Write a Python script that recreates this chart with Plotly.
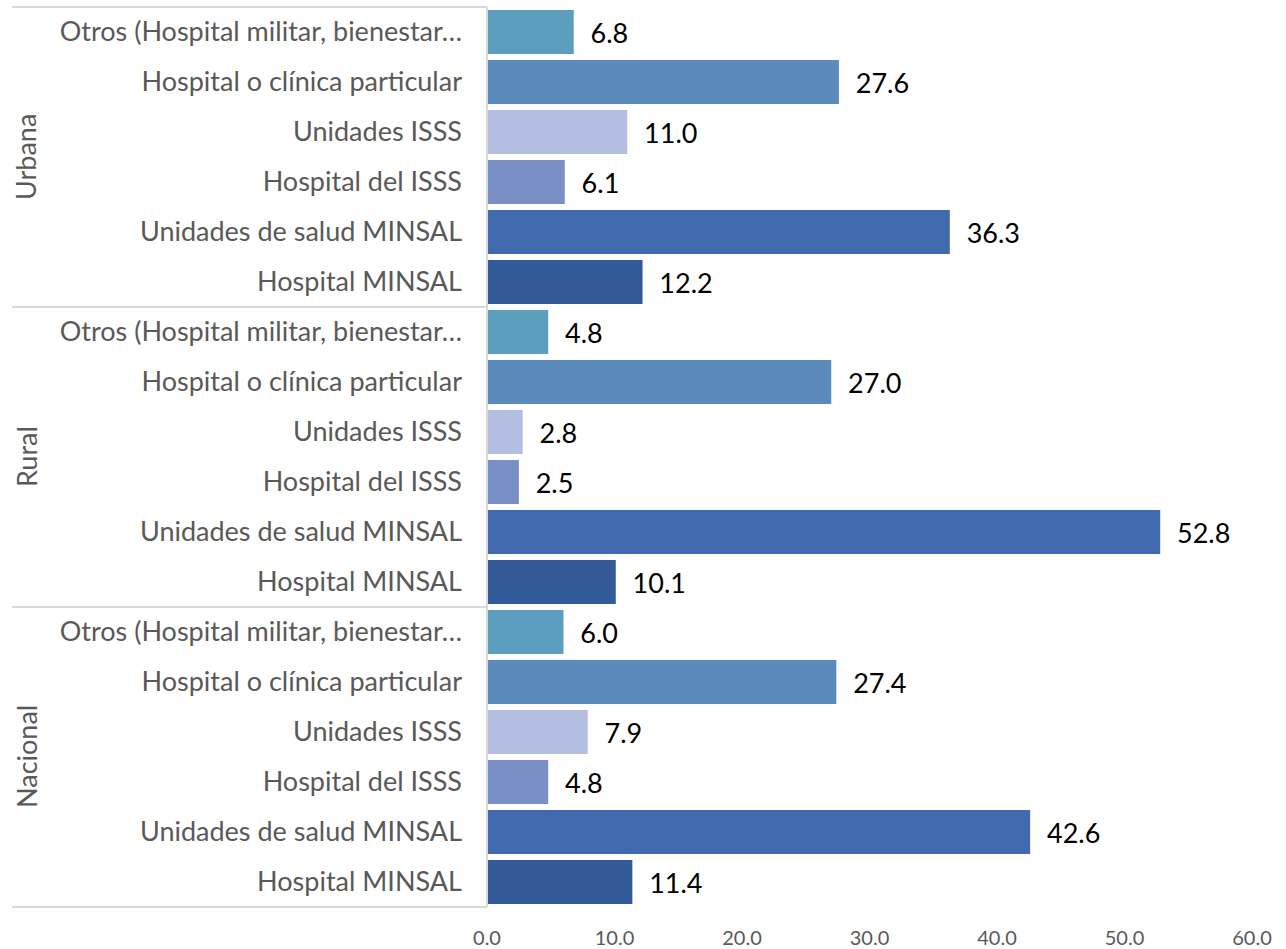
import plotly.graph_objects as go

groups = ["Nacional", "Rural", "Urbana"]
categories = [
    "Hospital MINSAL",
    "Unidades de salud MINSAL",
    "Hospital del ISSS",
    "Unidades ISSS",
    "Hospital o clínica particular",
    "Otros (Hospital militar, bienestar…",
]
values = {
    "Nacional": [11.4, 42.6, 4.8, 7.9, 27.4, 6.0],
    "Rural": [10.1, 52.8, 2.5, 2.8, 27.0, 4.8],
    "Urbana": [12.2, 36.3, 6.1, 11.0, 27.6, 6.8],
}
colors = ["#335A98", "#426AAF", "#7A8FC6", "#B4BEE0", "#5B8BBA", "#5B9EBD"]

FONT = "Lato"
GRAY = "#595959"
LINE = "#D9D9D9"

ykeys, ylabels, xs, cols = [], [], [], []
for g in groups:
    for c, v, col in zip(categories, values[g], colors):
        ykeys.append(f"{g}|{c}")
        ylabels.append(c)
        xs.append(v)
        cols.append(col)

fig = go.Figure(
    go.Bar(
        x=xs,
        y=ykeys,
        orientation="h",
        marker=dict(color=cols, line=dict(width=0)),
        texttemplate="\u00a0\u00a0%{x:.1f}",
        textposition="outside",
        textfont=dict(family=FONT, size=27, color="#000000"),
        cliponaxis=False,
        hoverinfo="skip",
    )
)

W, H = 1286, 949
ml, mr, mt, mb = 487, 34, 7, 42
pw = W - ml - mr
left_px = 12
x_left = (left_px - ml) / pw

n = len(groups)
shapes = []
for i in range(n + 1):
    shapes.append(dict(type="line", xref="paper", yref="paper", x0=x_left, x1=0,
                       y0=i / n, y1=i / n, line=dict(color=LINE, width=2)))
shapes.append(dict(type="line", xref="paper", yref="paper", x0=0, x1=0, y0=0, y1=1,
                   line=dict(color=LINE, width=2)))

annotations = []
for i, g in enumerate(groups):
    annotations.append(dict(
        text=g, xref="paper", yref="paper", x=(26 - ml) / pw, y=(i + 0.5) / n,
        showarrow=False, textangle=-90, xanchor="center", yanchor="middle",
        font=dict(family=FONT, size=27, color=GRAY),
    ))

fig.update_layout(
    width=W, height=H,
    margin=dict(l=ml, r=mr, t=mt, b=mb, autoexpand=False),
    plot_bgcolor="white", paper_bgcolor="white",
    showlegend=False,
    bargap=0.12,
    shapes=shapes,
    annotations=annotations,
    xaxis=dict(range=[0, 60], dtick=10, tickformat=".1f", showgrid=False, zeroline=False,
               showline=False, ticks="", ticklabelstandoff=17, automargin=False,
               tickfont=dict(family=FONT, size=20, color=GRAY)),
    yaxis=dict(type="category", categoryorder="array", categoryarray=ykeys,
               tickvals=ykeys, ticktext=ylabels, showgrid=False, zeroline=False,
               showline=False, ticks="", ticklabelstandoff=24, automargin=False,
               tickfont=dict(family=FONT, size=27, color=GRAY)),
)

fig.write_html("out.html", config={"displayModeBar": False},
               post_script="document.body.style.margin='0';")
